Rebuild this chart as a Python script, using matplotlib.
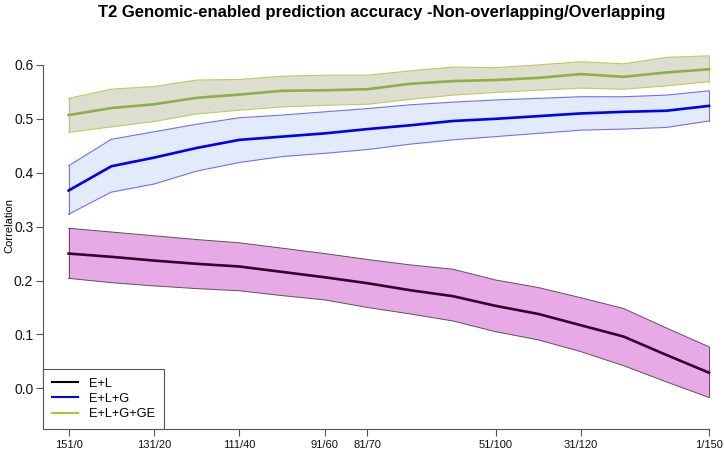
import matplotlib
matplotlib.use("Agg")
import matplotlib.pyplot as plt
import numpy as np

plt.rcParams["font.family"] = ["Liberation Sans", "DejaVu Sans"]

# testing set size (second number of the split); ticks only labelled at some
x_vals = [0, 10, 20, 30, 40, 50, 60, 70, 80, 90, 100, 110, 120, 130, 140, 150]
tick_pos = [0, 20, 40, 60, 70, 100, 120, 150]
tick_labels = ["151/0", "131/20", "111/40", "91/60", "81/70", "51/100", "31/120", "1/150"]

# E+L
el_mean = [0.250, 0.244, 0.237, 0.231, 0.226, 0.216, 0.206, 0.195, 0.182, 0.171,
           0.153, 0.138, 0.117, 0.096, 0.062, 0.029]
el_upper = [0.297, 0.290, 0.283, 0.276, 0.270, 0.260, 0.250, 0.239, 0.229, 0.221,
            0.201, 0.187, 0.168, 0.148, 0.112, 0.077]
el_lower = [0.204, 0.196, 0.190, 0.185, 0.181, 0.172, 0.164, 0.150, 0.138, 0.125,
            0.105, 0.090, 0.068, 0.042, 0.012, -0.017]

# E+L+G
elg_mean = [0.367, 0.412, 0.428, 0.446, 0.461, 0.467, 0.473, 0.481, 0.488, 0.496,
            0.500, 0.505, 0.510, 0.513, 0.515, 0.524]
elg_upper = [0.413, 0.462, 0.476, 0.490, 0.502, 0.507, 0.513, 0.519, 0.526, 0.531,
             0.535, 0.538, 0.541, 0.541, 0.544, 0.552]
elg_lower = [0.323, 0.364, 0.379, 0.403, 0.419, 0.430, 0.436, 0.443, 0.453, 0.461,
             0.467, 0.473, 0.479, 0.481, 0.484, 0.496]

# E+L+G+GE
elgge_mean = [0.507, 0.520, 0.527, 0.539, 0.545, 0.552, 0.553, 0.555, 0.565, 0.570,
              0.572, 0.576, 0.583, 0.578, 0.586, 0.592]
elgge_upper = [0.538, 0.555, 0.560, 0.572, 0.573, 0.579, 0.581, 0.581, 0.589, 0.596,
               0.595, 0.600, 0.606, 0.602, 0.614, 0.617]
elgge_lower = [0.475, 0.485, 0.495, 0.509, 0.516, 0.522, 0.525, 0.527, 0.536, 0.544,
               0.549, 0.553, 0.557, 0.555, 0.561, 0.569]


def band(ax, x, lower, upper, mean, fill, edge, line, edge_lw):
    """Shaded interval with thin outline and a thick mean line."""
    ax.fill_between(x, lower, upper, facecolor=fill, edgecolor="none", zorder=1)
    ax.plot(x, upper, color=edge, linewidth=edge_lw, zorder=2)
    ax.plot(x, lower, color=edge, linewidth=edge_lw, zorder=2)
    ax.plot([x[0], x[0]], [lower[0], upper[0]], color=edge, linewidth=edge_lw, zorder=2)
    ax.plot([x[-1], x[-1]], [lower[-1], upper[-1]], color=edge, linewidth=edge_lw, zorder=2)
    ax.plot(x, mean, color=line, linewidth=1.9, zorder=3)


fig = plt.figure(figsize=(7.24, 4.5), dpi=100)
ax = fig.add_axes([43 / 724, 21 / 450, 691.6 / 724, 406.1 / 450])

x = np.asarray(x_vals, dtype=float)
band(ax, x, el_lower, el_upper, el_mean, "#e8aae6", "#555555", "#330030", 0.7)
band(ax, x, elg_lower, elg_upper, elg_mean, "#e3ebfb", "#7070ff", "#0000ee", 0.8)
band(ax, x, elgge_lower, elgge_upper, elgge_mean, "#dcdfd0", "#b8cf60", "#8fae45", 0.8)

ax.set_xlim(-6, 156)
ax.set_ylim(-0.0755, 0.678)

for side in ["top", "right"]:
    ax.spines[side].set_visible(False)
for side in ["left", "bottom"]:
    ax.spines[side].set_color("#555555")
    ax.spines[side].set_linewidth(0.8)
ax.spines["left"].set_bounds(0.0, 0.6)
ax.spines["bottom"].set_bounds(0, 150)

ax.set_yticks([0.0, 0.1, 0.2, 0.3, 0.4, 0.5, 0.6])
ax.set_yticklabels(["0.0", "0.1", "0.2", "0.3", "0.4", "0.5", "0.6"], fontsize=10)
ax.set_xticks(tick_pos)
ax.set_xticklabels(tick_labels, fontsize=8)
ax.tick_params(axis="both", length=5, width=0.8, color="#555555", labelcolor="#111111")
ax.tick_params(axis="x", pad=3)
ax.tick_params(axis="y", pad=2)

ax.set_ylabel("Correlation", fontsize=8)
ax.yaxis.set_label_coords(-0.041, 0.5)

fig.text(0.527, 0.973, "T2 Genomic-enabled prediction accuracy -Non-overlapping/Overlapping",
         ha="center", va="center", fontsize=12, fontweight="bold")

handles = [
    plt.Line2D([], [], color="black", linewidth=1.5),
    plt.Line2D([], [], color="#0000ff", linewidth=1.5),
    plt.Line2D([], [], color="#9acd32", linewidth=1.5),
]
leg = ax.legend(handles, ["E+L", "E+L+G", "E+L+G+GE"], loc="lower left",
                bbox_to_anchor=(0, 0), borderaxespad=0, fontsize=9.2,
                fancybox=False, framealpha=1, edgecolor="#555555",
                handlelength=2.0, labelspacing=0.25, borderpad=0.7, handletextpad=0.9)
leg.get_frame().set_linewidth(0.8)

fig.savefig("out.png", dpi=100)
